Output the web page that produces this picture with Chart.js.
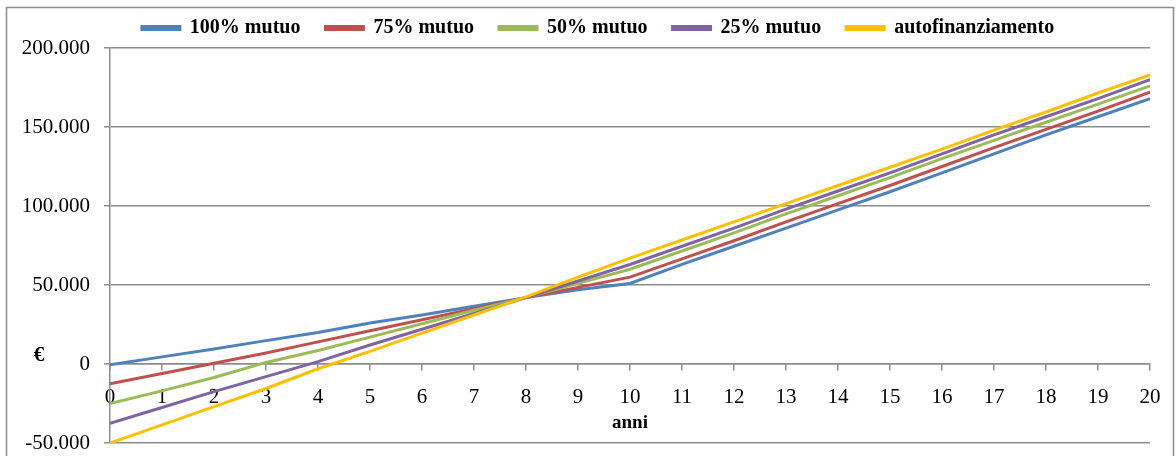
<!DOCTYPE html>
<html>
<head>
<meta charset="utf-8">
<script src="https://cdn.jsdelivr.net/npm/chart.js@4/dist/chart.umd.min.js"></script>
<style>
  html, body { margin: 0; padding: 0; background: #fff; }
  #wrap { width: 1176px; height: 456px; }
</style>
</head>
<body>
<div id="wrap"><canvas id="myChart" width="1176" height="456"></canvas></div>
<script>
// anni 0..20
const years = [0,1,2,3,4,5,6,7,8,9,10,11,12,13,14,15,16,17,18,19,20];

const mutuo100 = [-500,4500,9500,14800,20000,26000,31000,36500,42000,47000,51000,
  63000,74500,86000,97500,109000,121000,133000,145000,156500,168000];
const mutuo75 = [-12500,-6000,500,7000,14000,21000,28000,35000,42000,48500,55000,
  66500,78000,90000,101500,113000,125000,137000,148500,160000,172000];
const mutuo50 = [-25000,-17000,-8500,1000,8500,17000,25500,34000,42000,51000,60000,
  71500,83000,95000,106500,118000,130000,141500,153000,164500,176000];
const mutuo25 = [-37500,-27500,-17500,-8000,1500,12000,22000,32000,42000,52500,63000,
  74500,86000,98000,109500,121000,133000,145000,156500,168000,180000];
const autofin = [-50000,-38500,-27000,-15500,-3000,8000,19500,31000,42500,55000,67000,
  78500,90000,101500,113000,124500,136000,148000,159500,171500,183000];

const seriesNames = ["100% mutuo", "75% mutuo", "50% mutuo", "25% mutuo", "autofinanziamento"];
const seriesColors = ["#4F81BD", "#C0504D", "#9BBB59", "#8064A2", "#FFC000"];
const allSeries = [mutuo100, mutuo75, mutuo50, mutuo25, autofin];

const yMin = -50000, yMax = 200000, yStep = 50000;

function euroFmt(v) {
  if (v === 0) return "0";
  let s = Math.abs(v).toString().replace(/\B(?=(\d{3})+(?!\d))/g, ".");
  return (v < 0 ? "-" : "") + s;
}

const data = {
  datasets: allSeries.map(function (vals, i) {
    return {
      label: seriesNames[i],
      data: vals.map(function (v, j) { return { x: years[j], y: v }; }),
      borderColor: seriesColors[i],
      backgroundColor: seriesColors[i],
      borderWidth: 3,
      pointRadius: 0,
      tension: 0,
      order: allSeries.length - 1 - i
    };
  })
};

// bordo esterno e simbolo euro
const extras = {
  id: "extras",
  beforeDraw(chart) {
    const ctx = chart.ctx;
    ctx.save();
    ctx.strokeStyle = "#8c8c8c";
    ctx.lineWidth = 1.5;
    ctx.beginPath();
    ctx.moveTo(6.5, 470);
    ctx.lineTo(6.5, 7.5);
    ctx.lineTo(1173.5, 7.5);
    ctx.lineTo(1173.5, 470);
    ctx.stroke();
    ctx.restore();
  },
  afterDraw(chart) {
    const ctx = chart.ctx;
    ctx.save();
    ctx.fillStyle = "#000";
    ctx.font = "bold 21px 'Liberation Serif'";
    ctx.textAlign = "center";
    ctx.textBaseline = "middle";
    ctx.fillText("€", 39, chart.scales.y.getPixelForValue(0) - 8);
    ctx.restore();
  }
};

const config = {
  type: "line",
  data: data,
  options: {
    responsive: false,
    animation: false,
    layout: { padding: { top: -7, left: 20, right: 0, bottom: 13 } },
    plugins: {
      legend: {
        position: "top",
        labels: {
          boxWidth: 38,
          boxHeight: 3,
          padding: 25,
          color: "#000",
          font: { family: "'Liberation Serif'", size: 20, weight: "bold" },
          sort: function (a, b) { return a.datasetIndex - b.datasetIndex; }
        }
      },
      tooltip: { enabled: false }
    },
    scales: {
      x: {
        type: "linear",
        position: { y: 0 },
        min: 0,
        max: 20,
        ticks: {
          stepSize: 1,
          padding: 15,
          color: "#000",
          font: { family: "'Liberation Serif'", size: 21 }
        },
        grid: { drawOnChartArea: false, drawTicks: true, tickLength: 6, color: "#8c8c8c", lineWidth: 1.5 },
        border: { color: "#8c8c8c", width: 1.5 },
        title: {
          display: true,
          text: "anni",
          color: "#000",
          padding: { top: -14, bottom: 0 },
          font: { family: "'Liberation Serif'", size: 19, weight: "bold" }
        }
      },
      y: {
        min: yMin,
        max: yMax,
        afterFit: function (scale) {
          scale.width = 90;
          scale.paddingTop = 0;
          scale.paddingBottom = 0;
        },
        ticks: {
          stepSize: yStep,
          padding: 14,
          color: "#000",
          font: { family: "'Liberation Serif'", size: 21 },
          callback: function (v) { return euroFmt(v); }
        },
        grid: { tickLength: 6, color: "#8c8c8c", lineWidth: 1.5 },
        border: { color: "#8c8c8c", width: 1.5 }
      },
      // asse vuoto a destra, solo per lo spazio
      yRight: {
        position: "right",
        min: yMin,
        max: yMax,
        afterFit: function (scale) { scale.width = 26; },
        ticks: { display: false },
        grid: { display: false },
        border: { display: false }
      }
    }
  },
  plugins: [extras]
};

const myChart = new Chart(document.getElementById("myChart"), config);
</script>
</body>
</html>
